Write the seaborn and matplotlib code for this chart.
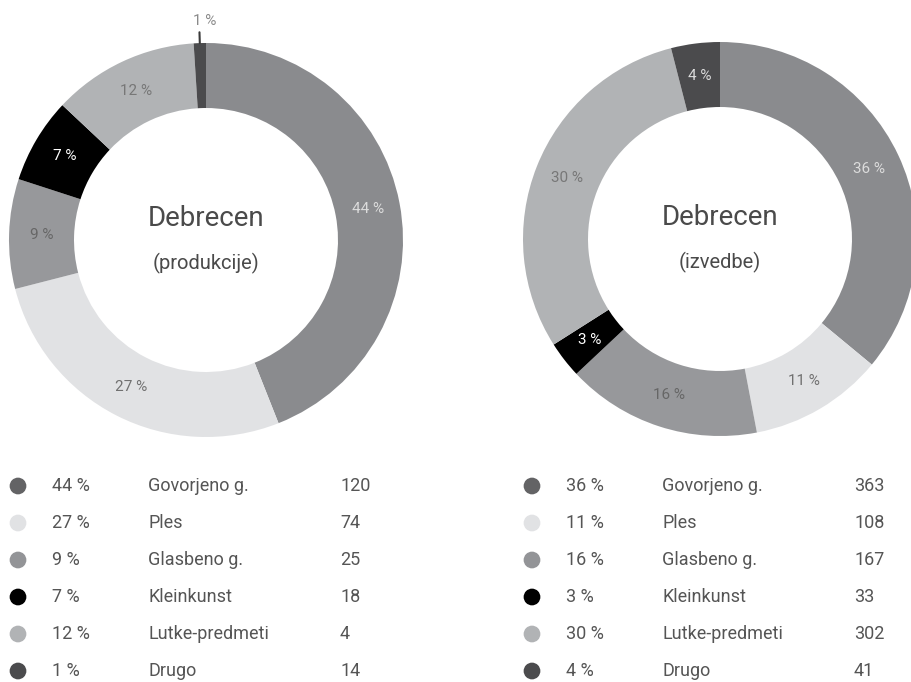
import matplotlib
matplotlib.use("Agg")
import matplotlib.pyplot as plt
import seaborn as sns
import numpy as np

categories = ["Govorjeno g.", "Ples", "Glasbeno g.", "Kleinkunst", "Lutke-predmeti", "Drugo"]

prod_pct = [44, 27, 9, 7, 12, 1]
prod_counts = [120, 74, 25, 18, 4, 14]

izv_pct = [36, 11, 16, 3, 30, 4]
izv_counts = [363, 108, 167, 33, 302, 41]

wedge_colors = ["#8a8b8e", "#e1e2e4", "#97989b", "#000000", "#b1b3b5", "#4b4b4d"]
dot_colors = ["#636365", "#e1e2e4", "#939497", "#000000", "#b1b3b5", "#4b4b4d"]
label_colors = ["#dcdcdc", "#707070", "#666666", "#ffffff", "#777777", "#dcdcdc"]

sns.set_theme(style="white")
plt.rcParams["font.family"] = ["Roboto", "DejaVu Sans"]

W, H = 911, 682
fig = plt.figure(figsize=(W / 100, H / 100), dpi=100)
fig.patch.set_facecolor("white")

R = 197  # outer radius in px
FW = "normal"


def donut(cx, cy, pct, title, sub, outside_small=False):
    ax = fig.add_axes([(cx - R) / W, (H - cy - R) / H, 2 * R / W, 2 * R / H])
    wedges, _ = ax.pie(pct, colors=wedge_colors, startangle=90, counterclock=False,
                       radius=1, wedgeprops=dict(width=0.33, linewidth=0))
    ax.set_xlim(-1, 1)
    ax.set_ylim(-1, 1)
    ax.set_aspect("equal")
    ax.axis("off")
    for i, w in enumerate(wedges):
        ang = np.deg2rad((w.theta1 + w.theta2) / 2)
        x, y = np.cos(ang), np.sin(ang)
        if outside_small and pct[i] < 2:
            ax.plot([x, 1.055 * x], [y, 1.055 * y], color="#3a3a3a", lw=1.5, clip_on=False)
            ax.text(1.11 * x + 0.03, 1.11 * y, f"{pct[i]} %", ha="center", va="center",
                    fontsize=11, color="#8a8a8a", fontweight=FW)
        else:
            r = 0.835
            ax.text(r * x, r * y, f"{pct[i]} %", ha="center", va="center",
                    fontsize=11, color=label_colors[i], fontweight=FW)
    ax.text(0, 0.11, title, ha="center", va="center", fontsize=20, color="#4a4a4a",
            fontweight=FW)
    ax.text(0, -0.12, sub, ha="center", va="center", fontsize=14.5, color="#4a4a4a",
            fontweight=FW)


donut(206, 240, prod_pct, "Debrecen", "(produkcije)", outside_small=True)
donut(720, 239, izv_pct, "Debrecen", "(izvedbe)")

# legend tables
leg = fig.add_axes([0, 0, 1, 1], zorder=-1)
leg.set_xlim(0, W)
leg.set_ylim(H, 0)
leg.axis("off")

rows_y = [486 + 37 * i for i in range(len(categories))]
tcol = "#555555"
for x0, pct, counts in [(18, prod_pct, prod_counts), (532, izv_pct, izv_counts)]:
    leg.scatter([x0] * len(categories), rows_y, s=145, c=dot_colors, linewidths=0)
    for i, cat in enumerate(categories):
        y = rows_y[i]
        leg.text(x0 + 34, y, f"{pct[i]} %", va="center", ha="left", fontsize=13,
                 color=tcol, fontweight=FW)
        leg.text(x0 + 130, y, cat, va="center", ha="left", fontsize=13,
                 color=tcol, fontweight=FW)
        leg.text(x0 + 322, y, str(counts[i]), va="center", ha="left", fontsize=13,
                 color=tcol, fontweight=FW)

fig.savefig("out.png", dpi=100, facecolor="white")
